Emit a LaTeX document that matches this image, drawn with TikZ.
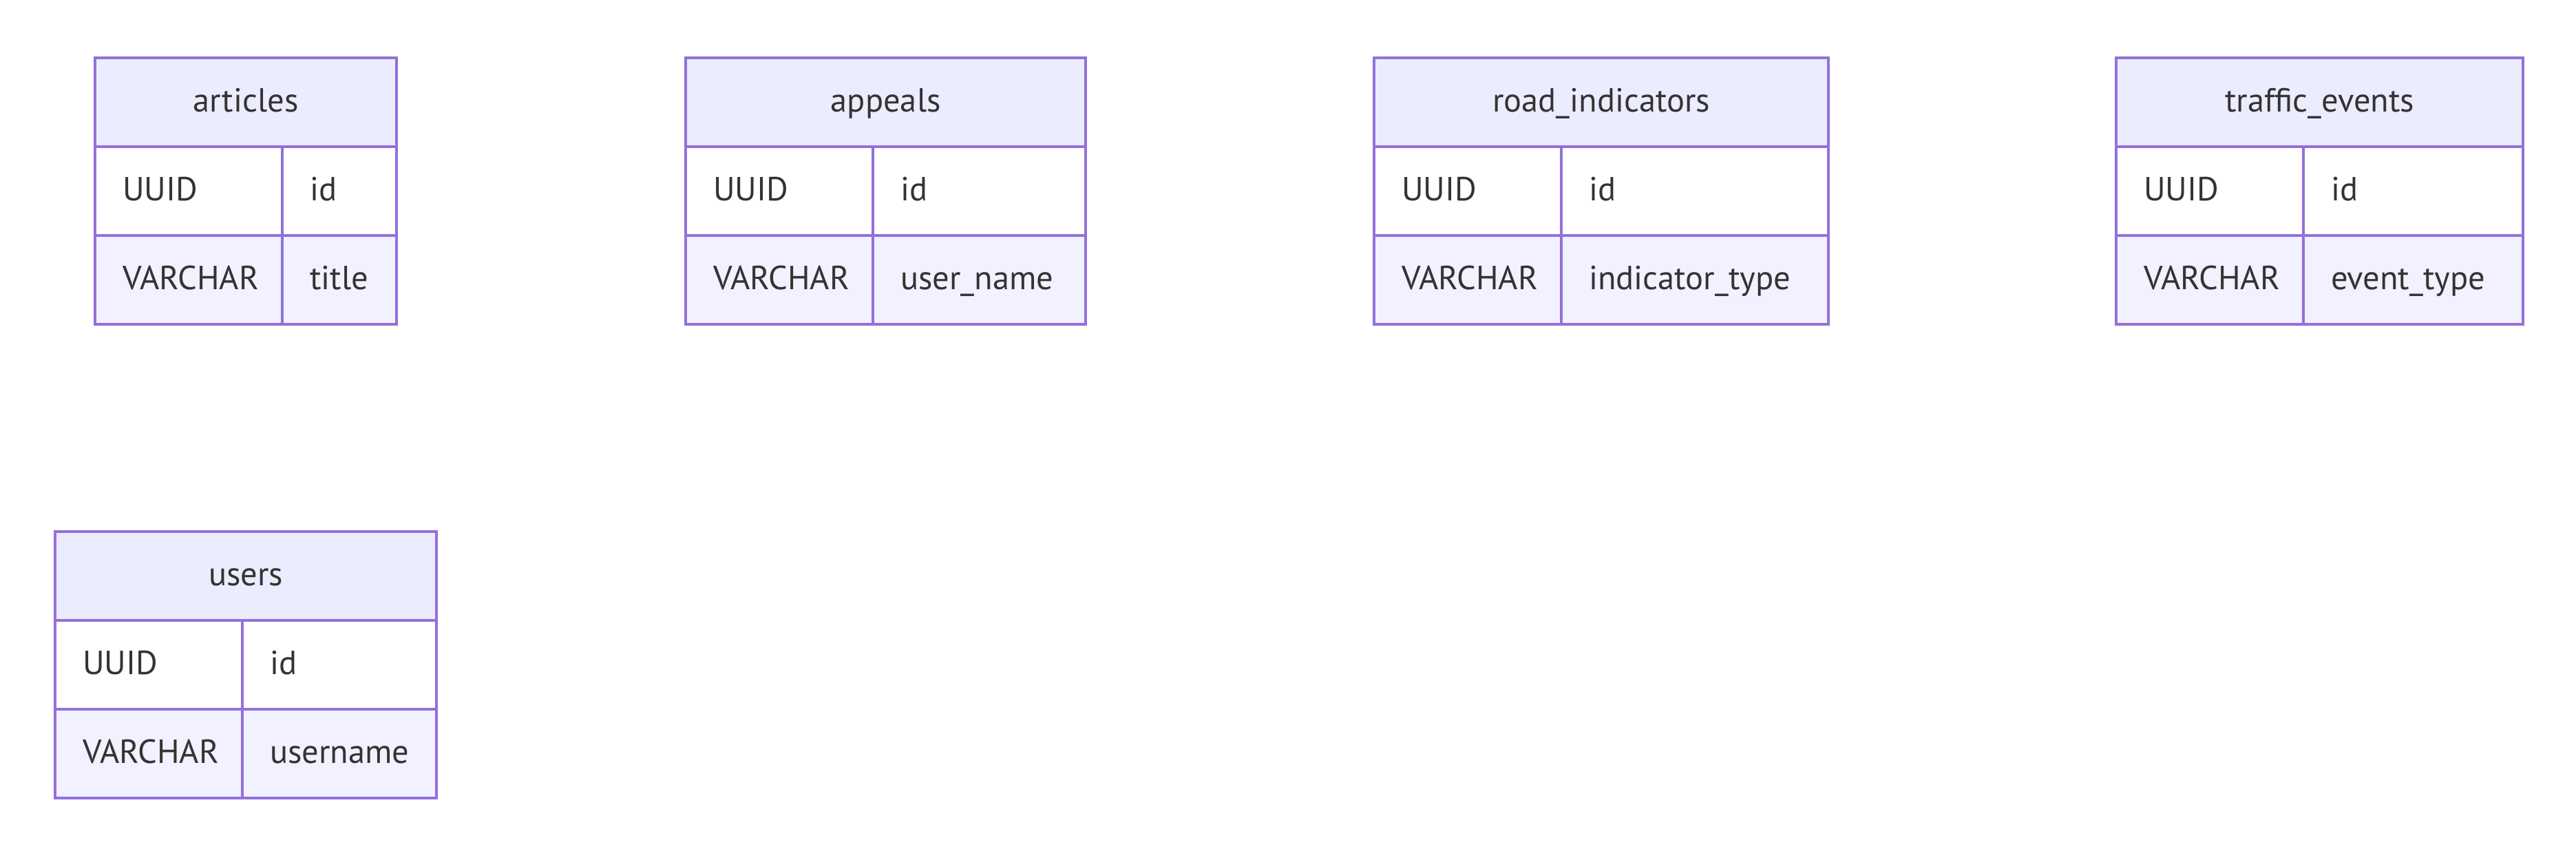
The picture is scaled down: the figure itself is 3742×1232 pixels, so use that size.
\documentclass[tikz,border=0pt]{standalone}
\usepackage{fontspec}
\setmainfont{PT Sans}
\definecolor{erline}{HTML}{9370DB}
\definecolor{erhead}{HTML}{ECECFF}
\definecolor{rowodd}{HTML}{FFFFFF}
\definecolor{roweven}{HTML}{F1F1FF}
\definecolor{ertext}{HTML}{333333}
\tikzset{
    erbox/.style={draw=erline,line width=1.1pt,inner sep=0pt,outer sep=0pt,anchor=north west,
        minimum height=1.29cm,text=ertext,font=\fontsize{13.8}{16}\selectfont,
        text height=0.8em,text depth=0.02em},
    tabhead/.style={erbox,fill=erhead},
    tabcell/.style={erbox,align=left,inner xsep=0.4cm}
}

\begin{document}
\begin{tikzpicture}[x=0.01cm,y=-0.01cm]
        \def\wa{272}
        \useasboundingbox (0,0) rectangle (3742,1232);
        \foreach \tn/\ttl/\x/\y/\wb/\fld in {
            articles/articles/138/84/166/title,
            appeals/appeals/996/84/309/user\_name,
            road/road\_indicators/1996/84/388/indicator\_type,
            traffic/traffic\_events/3074/84/319/event\_type,
            users/users/80/772/282/username
        } {
            \pgfmathsetmacro{\wt}{(\wa+\wb)/100}
            \pgfmathsetmacro{\ta}{(\wa-80)/100}
            \pgfmathsetmacro{\tb}{(\wb-80)/100}
            \node [tabhead,minimum width=\wt cm] (\tn-head) at (\x,\y) {\ttl};
            \node [tabcell,fill=rowodd,text width=\ta cm] (\tn-t1) at (\tn-head.south west) {UUID};
            \node [tabcell,fill=rowodd,text width=\tb cm] (\tn-n1) at (\tn-t1.north east) {id};
            \node [tabcell,fill=roweven,text width=\ta cm] (\tn-t2) at (\tn-t1.south west) {VARCHAR};
            \node [tabcell,fill=roweven,text width=\tb cm] (\tn-n2) at (\tn-t2.north east) {\fld};
        }
    \end{tikzpicture}
\end{document}
